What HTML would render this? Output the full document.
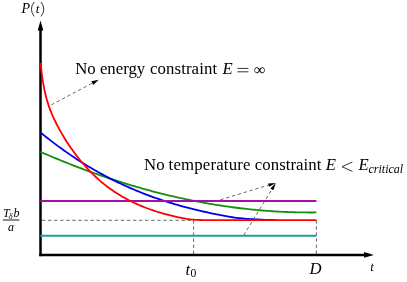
<!DOCTYPE html>
<html><head><meta charset="utf-8"><style>
html,body{margin:0;padding:0;background:#fff;}
svg{display:block;will-change:transform;}
text{font-family:"Liberation Serif",serif;fill:#000;}
.i{font-style:italic;}
</style></head><body>
<svg width="407" height="282" viewBox="0 0 407 282">
<rect width="407" height="282" fill="#fff"/>
<!-- axes -->
<line x1="40.5" y1="29" x2="40.5" y2="256.15" stroke="#000" stroke-width="2.5"/>
<line x1="39.25" y1="254.9" x2="365" y2="254.9" stroke="#000" stroke-width="2.5"/>
<polygon points="40.5,20.6 37.7,30.6 43.3,30.6" fill="#000"/>
<polygon points="373.9,254.9 364.1,252.0 364.1,257.8" fill="#000"/>
<!-- dashed guides -->
<g stroke="#000" stroke-width="0.6" stroke-dasharray="3.4,2.67" fill="none">
<line x1="41.9" y1="220.3" x2="193.6" y2="220.3"/>
<line x1="193.6" y1="220.3" x2="193.6" y2="254.5"/>
<line x1="316.4" y1="220.2" x2="316.4" y2="254.5"/>
<line x1="51.3" y1="104.9" x2="93" y2="82.8"/>
<line x1="220.4" y1="199.8" x2="269.5" y2="184.8"/>
<line x1="243.7" y1="235.3" x2="272.2" y2="188.8"/>
</g>
<!-- dashed arrow heads -->
<polygon points="98.7,79.8 91.4,81.3 93.3,85.0" fill="#000"/>
<polygon points="275.8,182.9 268.13,183.46 269.13,186.72" fill="#000"/>
<polygon points="275.8,182.9 270.43,188.41 273.33,190.19" fill="#000"/>
<!-- curves -->
<line x1="40.3" y1="235.8" x2="316.4" y2="235.8" stroke="#18a0a0" stroke-width="1.9"/>
<path d="M40.40,151.82 L42.40,152.70 L44.40,153.56 L46.40,154.42 L48.40,155.27 L50.40,156.12 L52.40,156.96 L54.40,157.80 L56.40,158.63 L58.40,159.45 L60.40,160.27 L62.40,161.08 L64.40,161.89 L66.40,162.69 L68.40,163.48 L70.40,164.27 L72.40,165.05 L74.40,165.83 L76.40,166.60 L78.40,167.36 L80.40,168.12 L82.40,168.87 L84.40,169.61 L86.40,170.35 L88.40,171.08 L90.40,171.81 L92.40,172.53 L94.40,173.25 L96.40,173.95 L98.40,174.66 L100.40,175.35 L102.40,176.04 L104.40,176.73 L106.40,177.40 L108.40,178.07 L110.40,178.74 L112.40,179.40 L114.40,180.05 L116.40,180.70 L118.40,181.34 L120.40,181.97 L122.40,182.60 L124.40,183.22 L126.40,183.84 L128.40,184.44 L130.40,185.05 L132.40,185.64 L134.40,186.23 L136.40,186.82 L138.40,187.39 L140.40,187.96 L142.40,188.53 L144.40,189.09 L146.40,189.64 L148.40,190.18 L150.40,190.72 L152.40,191.26 L154.40,191.78 L156.40,192.30 L158.40,192.82 L160.40,193.32 L162.40,193.82 L164.40,194.32 L166.40,194.81 L168.40,195.29 L170.40,195.76 L172.40,196.23 L174.40,196.69 L176.40,197.15 L178.40,197.60 L180.40,198.04 L182.40,198.48 L184.40,198.91 L186.40,199.33 L188.40,199.75 L190.40,200.15 L192.40,200.56 L194.40,200.96 L196.40,201.35 L198.40,201.73 L200.40,202.11 L202.40,202.48 L204.40,202.84 L206.40,203.20 L208.40,203.55 L210.40,203.89 L212.40,204.23 L214.40,204.56 L216.40,204.89 L218.40,205.20 L220.40,205.51 L222.40,205.82 L224.40,206.12 L226.40,206.41 L228.40,206.69 L230.40,206.97 L232.40,207.24 L234.40,207.50 L236.40,207.76 L238.40,208.01 L240.40,208.26 L242.40,208.49 L244.40,208.72 L246.40,208.95 L248.40,209.16 L250.40,209.37 L252.40,209.58 L254.40,209.77 L256.40,209.96 L258.40,210.15 L260.40,210.32 L262.40,210.49 L264.40,210.65 L266.40,210.81 L268.40,210.96 L270.40,211.10 L272.40,211.24 L274.40,211.36 L276.40,211.49 L278.40,211.60 L280.40,211.71 L282.40,211.81 L284.40,211.90 L286.40,211.99 L288.40,212.07 L290.40,212.14 L292.40,212.21 L294.40,212.27 L296.40,212.32 L298.40,212.36 L300.40,212.40 L302.40,212.43 L304.40,212.45 L306.40,212.47 L308.40,212.48 L310.40,212.48 L312.40,212.48 L314.40,212.47 L316.40,212.45 L316.40,212.45" fill="none" stroke="#109010" stroke-width="1.8" stroke-linejoin="round"/>
<path d="M40.40,132.34 L42.40,133.98 L44.40,135.60 L46.40,137.20 L48.40,138.78 L50.40,140.34 L52.40,141.88 L54.40,143.40 L56.40,144.90 L58.40,146.38 L60.40,147.84 L62.40,149.29 L64.40,150.71 L66.40,152.12 L68.40,153.51 L70.40,154.88 L72.40,156.23 L74.40,157.56 L76.40,158.88 L78.40,160.17 L80.40,161.45 L82.40,162.71 L84.40,163.96 L86.40,165.19 L88.40,166.40 L90.40,167.59 L92.40,168.76 L94.40,169.92 L96.40,171.07 L98.40,172.19 L100.40,173.30 L102.40,174.40 L104.40,175.47 L106.40,176.53 L108.40,177.58 L110.40,178.61 L112.40,179.62 L114.40,180.62 L116.40,181.61 L118.40,182.57 L120.40,183.53 L122.40,184.46 L124.40,185.39 L126.40,186.30 L128.40,187.19 L130.40,188.07 L132.40,188.93 L134.40,189.79 L136.40,190.62 L138.40,191.45 L140.40,192.26 L142.40,193.05 L144.40,193.83 L146.40,194.60 L148.40,195.36 L150.40,196.10 L152.40,196.83 L154.40,197.55 L156.40,198.25 L158.40,198.94 L160.40,199.62 L162.40,200.29 L164.40,200.95 L166.40,201.59 L168.40,202.22 L170.40,202.84 L172.40,203.45 L174.40,204.04 L176.40,204.63 L178.40,205.20 L180.40,205.76 L182.40,206.32 L184.40,206.86 L186.40,207.39 L188.40,207.91 L190.40,208.42 L192.40,208.91 L194.40,209.40 L196.40,209.87 L198.40,210.34 L200.40,210.81 L202.40,211.28 L204.40,211.75 L206.40,212.21 L208.40,212.67 L210.40,213.11 L212.40,213.53 L214.40,213.94 L216.40,214.34 L218.40,214.73 L220.40,215.11 L222.40,215.48 L224.40,215.84 L226.40,216.20 L228.40,216.56 L230.40,216.91 L232.40,217.24 L234.40,217.54 L236.40,217.80 L238.40,218.03 L240.40,218.25 L242.40,218.44 L244.40,218.62 L246.40,218.78 L248.40,218.93 L250.40,219.07 L252.40,219.19 L254.40,219.31 L256.40,219.42 L258.40,219.52 L260.40,219.62 L262.40,219.71 L264.40,219.79 L266.40,219.86 L268.40,219.93 L270.40,219.98 L272.40,220.04 L274.40,220.08 L276.40,220.12" fill="none" stroke="#0000e8" stroke-width="1.8" stroke-linejoin="round"/>
<line x1="40.3" y1="201.0" x2="316.4" y2="201.0" stroke="#a010a8" stroke-width="1.9"/>
<path d="M40.40,62.77 L42.40,78.69 L44.40,89.89 L46.40,98.25 L48.40,104.88 L50.40,110.42 L52.40,115.28 L54.40,119.67 L56.40,123.73 L58.40,127.55 L60.40,131.17 L62.40,134.64 L64.40,137.96 L66.40,141.15 L68.40,144.23 L70.40,147.20 L72.40,150.06 L74.40,152.82 L76.40,155.48 L78.40,158.05 L80.40,160.53 L82.40,162.93 L84.40,165.24 L86.40,167.47 L88.40,169.62 L90.40,171.70 L92.40,173.71 L94.40,175.64 L96.40,177.51 L98.40,179.32 L100.40,181.06 L102.40,182.74 L104.40,184.37 L106.40,185.93 L108.40,187.45 L110.40,188.91 L112.40,190.32 L114.40,191.68 L116.40,192.99 L118.40,194.26 L120.40,195.48 L122.40,196.66 L124.40,197.80 L126.40,198.90 L128.40,199.97 L130.40,200.99 L132.40,201.98 L134.40,202.94 L136.40,203.86 L138.40,204.75 L140.40,205.61 L142.40,206.44 L144.40,207.24 L146.40,208.01 L148.40,208.76 L150.40,209.48 L152.40,210.18 L154.40,210.85 L156.40,211.50 L158.40,212.12 L160.40,212.72 L162.40,213.31 L164.40,213.87 L166.40,214.41 L168.40,214.94 L170.40,215.44 L172.40,215.93 L174.40,216.40 L176.40,216.85 L178.40,217.29 L180.40,217.70 L182.40,218.09 L184.40,218.46 L186.40,218.80 L188.40,219.10 L190.40,219.36 L192.40,219.57 L194.40,219.74 L196.40,219.86 L198.40,219.95 L200.40,220.01 L202.40,220.06 L204.40,220.09 L206.40,220.11 L208.40,220.12 L210.40,220.13 L212.40,220.13 L214.40,220.14 L216.40,220.14 L218.40,220.14 L220.40,220.15 L222.40,220.15 L224.40,220.15 L226.40,220.15 L228.40,220.15 L230.40,220.15 L232.40,220.15 L234.40,220.15 L236.40,220.15 L238.40,220.15 L240.40,220.15 L242.40,220.15 L244.40,220.15 L246.40,220.15 L248.40,220.15 L250.40,220.15 L252.40,220.15 L254.40,220.15 L256.40,220.15 L258.40,220.15 L260.40,220.15 L262.40,220.15 L264.40,220.15 L266.40,220.15 L268.40,220.15 L270.40,220.15 L272.40,220.15 L274.40,220.15 L276.40,220.15 L278.40,220.15 L280.40,220.15 L282.40,220.15 L284.40,220.15 L286.40,220.15 L288.40,220.15 L290.40,220.15 L292.40,220.15 L294.40,220.15 L296.40,220.15 L298.40,220.15 L300.40,220.15 L302.40,220.15 L304.40,220.15 L306.40,220.15 L308.40,220.15 L310.40,220.15 L312.40,220.15 L314.40,220.15 L316.40,220.15 L316.40,220.15" fill="none" stroke="#ff0000" stroke-width="1.8" stroke-linejoin="round"/>
<!-- labels -->
<text x="21.6" y="12.8" font-size="14" class="i">P</text>
<text x="35.7" y="12.8" font-size="13" class="i">t</text>
<path d="M34.2,2.0 Q28.6,9.2 34.2,16.4" fill="none" stroke="#000" stroke-width="0.8"/>
<path d="M41.0,2.0 Q46.6,9.2 41.0,16.4" fill="none" stroke="#000" stroke-width="0.8"/>
<text y="74.2" font-size="16.8"><tspan x="75.2">No</tspan> <tspan x="99.9">energy</tspan> <tspan x="150.0" letter-spacing="0.1">constraint</tspan></text>
<text x="222.6" y="74.2" font-size="16.7" class="i">E</text>
<path d="M237.4,68.4 H248.4 M237.4,71.8 H248.4" stroke="#000" stroke-width="0.8" fill="none"/>
<text x="254.0" y="74.8" font-size="16.2">∞</text>
<text y="170.1" font-size="16.8"><tspan x="144.1">No</tspan> <tspan x="168.6" letter-spacing="0.17">temperature</tspan> <tspan x="254.8" letter-spacing="0.04">constraint</tspan></text>
<text x="325.8" y="170.1" font-size="16.7" class="i">E</text>
<path d="M352.4,162 L342,166.7 L352.4,171.4" stroke="#000" stroke-width="0.8" fill="none"/>
<text x="358.6" y="170.1" font-size="16.7" class="i">E</text>
<text x="368.5" y="173.3" font-size="12" class="i">critical</text>
<text x="185.6" y="274.5" font-size="16.7" class="i">t</text>
<text x="190.6" y="277.1" font-size="11.7">0</text>
<text x="309.6" y="274.3" font-size="16.7" class="i">D</text>
<text x="370.2" y="270.6" font-size="13" class="i">t</text>
<!-- fraction -->
<text x="3.1" y="216.6" font-size="12" class="i">T</text>
<text x="8.4" y="219.1" font-size="9" class="i">δ</text>
<text x="13.6" y="216.6" font-size="12" class="i">b</text>
<line x1="2.8" y1="220.0" x2="19.4" y2="220.0" stroke="#000" stroke-width="0.9"/>
<text x="8.0" y="230.6" font-size="12" class="i">a</text>
</svg>
</body></html>
